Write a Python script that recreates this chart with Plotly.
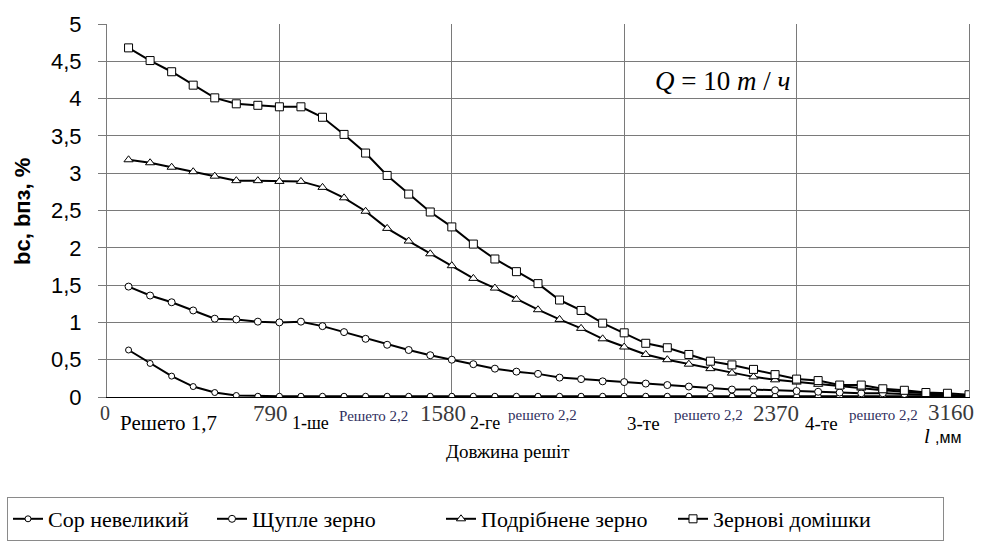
import plotly.graph_objects as go

# ---------------- data ----------------
length_mm = [79, 158, 237, 316, 395, 474, 553, 632, 711, 790,
             869, 948, 1027, 1106, 1185, 1264, 1343, 1422, 1501, 1580,
             1659, 1738, 1817, 1896, 1975, 2054, 2133, 2212, 2291, 2370,
             2449, 2528, 2607, 2686, 2765, 2844, 2923, 3002, 3081, 3160]

sor_nevelykyi = [0.63, 0.45, 0.28, 0.14, 0.06, 0.02, 0.01, 0.01, 0.01, 0.01,
                 0.01, 0.01, 0.01, 0.01, 0.01, 0.01, 0.01, 0.01, 0.01, 0.01,
                 0.01, 0.01, 0.01, 0.01, 0.01, 0.01, 0.01, 0.01, 0.01, 0.01,
                 0.01, 0.01, 0.01, 0.01, 0.01, 0.01, 0.01, 0.01, 0.01, 0.01]

shchuple_zerno = [1.48, 1.36, 1.27, 1.16, 1.05, 1.04, 1.01, 1.00, 1.01, 0.95,
                  0.87, 0.78, 0.70, 0.63, 0.56, 0.50, 0.44, 0.38, 0.34, 0.31,
                  0.26, 0.24, 0.21, 0.20, 0.18, 0.16, 0.14, 0.12, 0.10, 0.10,
                  0.09, 0.08, 0.07, 0.06, 0.05, 0.05, 0.04, 0.03, 0.02, 0.01]

podribnene_zerno = [3.18, 3.14, 3.08, 3.02, 2.96, 2.90, 2.90, 2.89, 2.89, 2.81,
                    2.67, 2.49, 2.26, 2.09, 1.92, 1.76, 1.59, 1.46, 1.31, 1.17,
                    1.04, 0.92, 0.78, 0.67, 0.57, 0.50, 0.44, 0.38, 0.32, 0.27,
                    0.23, 0.20, 0.17, 0.14, 0.12, 0.09, 0.07, 0.05, 0.03, 0.01]

zernovi_domishky = [4.68, 4.51, 4.36, 4.18, 4.01, 3.93, 3.91, 3.89, 3.89, 3.75,
                    3.52, 3.27, 2.97, 2.72, 2.48, 2.28, 2.05, 1.85, 1.68, 1.52,
                    1.30, 1.16, 0.99, 0.86, 0.72, 0.66, 0.57, 0.48, 0.43, 0.37,
                    0.30, 0.24, 0.22, 0.16, 0.16, 0.11, 0.09, 0.06, 0.05, 0.03]

series_names = ["Сор невеликий", "Щупле зерно", "Подрібнене зерно", "Зернові домішки"]
y_ticks = [0, 0.5, 1, 1.5, 2, 2.5, 3, 3.5, 4, 4.5, 5]
y_tick_text = ["0", "0,5", "1", "1,5", "2", "2,5", "3", "3,5", "4", "4,5", "5"]

# ---------------- figure ----------------
W, H = 984, 541
L, R, T, B = 107, 15, 24, 144
PW, PH = W - L - R, H - T - B

def px(x):
    return (x - L) / PW

def py(y):
    return (H - B - y) / PH

SERIF = "Liberation Serif, Times New Roman, serif"
SANS = "Liberation Sans, Arial, sans-serif"

fig = go.Figure()
series = [
    (sor_nevelykyi, "circle", 6, 159),
    (shchuple_zerno, "circle", 7, 184),
    (podribnene_zerno, "triangle-up", 8, 187),
    (zernovi_domishky, "square", 8, 225),
]
for name, (vals, sym, size, lw) in zip(series_names, series):
    fig.add_trace(go.Scatter(
        x=length_mm, y=vals, name=name, mode="lines+markers",
        line=dict(color="black", width=2),
        marker=dict(symbol=sym, size=size, color="white",
                    line=dict(color="black", width=1)),
        legendwidth=lw,
    ))

fig.update_layout(
    width=W, height=H,
    margin=dict(l=L, r=R, t=T, b=B, pad=0, autoexpand=False),
    paper_bgcolor="white", plot_bgcolor="white",
    showlegend=True,
    legend=dict(
        orientation="h",
        x=px(7), y=py(497), xanchor="left", yanchor="top",
        bordercolor="#8a8a8a", borderwidth=1,
        font=dict(family=SERIF, size=22, color="black"),
        itemwidth=30, tracegroupgap=0,
    ),
    xaxis=dict(
        range=[0, 3160], showticklabels=False, ticks="",
        showgrid=True, gridcolor="#7a7a7a", gridwidth=1,
        tick0=0, dtick=632, zeroline=False,
        showline=True, linecolor="black", linewidth=1,
    ),
    yaxis=dict(
        range=[0, 5], tickvals=y_ticks, ticktext=y_tick_text,
        ticks="outside", ticklen=8, tickcolor="#7a7a7a",
        tickfont=dict(family=SANS, size=22, color="black"),
        ticklabelstandoff=12,
        showgrid=True, gridcolor="#7a7a7a", gridwidth=1,
        zeroline=False, showline=True, linecolor="#7a7a7a", linewidth=1,
        mirror=True,
    ),
)

annotations = []

def add_text(text, x, y, size, family=SERIF, color="black", **kw):
    annotations.append(dict(
        text=text, x=px(x), y=py(y), xref="paper", yref="paper",
        xanchor="center", yanchor="middle", showarrow=False,
        font=dict(family=family, size=size, color=color), **kw))

num_color = "#3a3a3a"
small_color = "#303060"
add_text("0", 105, 413, 20, color=num_color)
add_text("Решето 1,7", 168, 423, 21)
add_text("790", 270, 413, 23, color=num_color)
add_text("1-ше", 310, 423, 18)
add_text("Решето 2,2", 373, 416, 15, color=small_color)
add_text("1580", 443, 413, 23, color=num_color)
add_text("2-ге", 485, 423, 18)
add_text("решето 2,2", 542, 415, 15, color=small_color)
add_text("3-те", 643, 423, 19)
add_text("решето 2,2", 708, 415, 15, color=small_color)
add_text("2370", 776, 413, 23, color=num_color)
add_text("4-те", 821, 423, 19)
add_text("решето 2,2", 883, 415, 15, color=small_color)
add_text("3160", 951, 412, 23, color=num_color)
add_text("<i>l</i> <span style='font-family:Liberation Sans;font-size:16px'>,мм</span>",
         943, 436, 21)
add_text("Довжина решіт", 508, 452, 19)
add_text("<i>Q</i> = 10 <i>m</i> / <i>ч</i>", 722, 81, 27)
add_text("<b>bc, bпз, %</b>", 22, 212, 22, family=SANS, textangle=-90)

fig.update_layout(annotations=annotations)

fig.write_html(
    "out.html",
    config={"displayModeBar": False},
    post_script="document.body.style.margin='0';document.body.style.overflow='hidden';",
)
